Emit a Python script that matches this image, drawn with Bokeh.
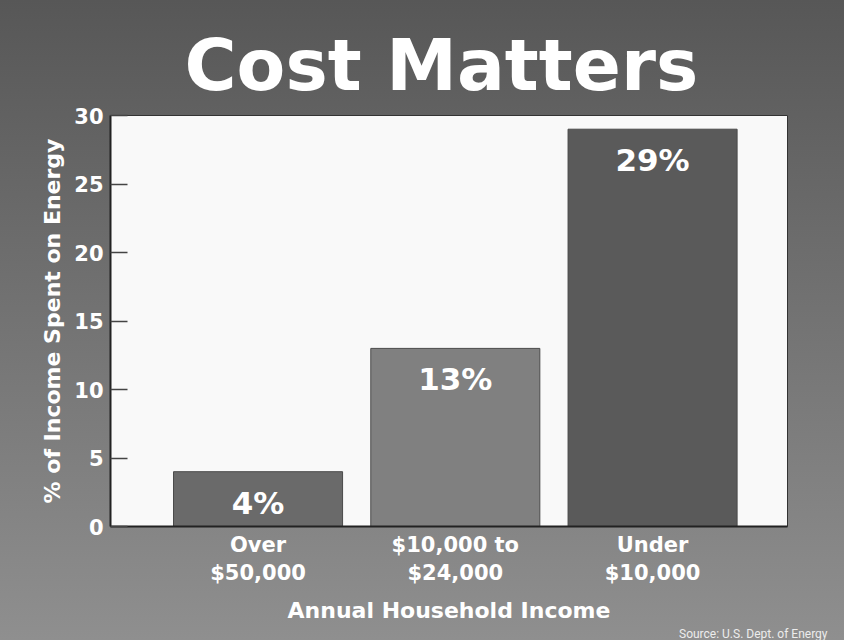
from bokeh.plotting import figure
from bokeh.models import FixedTicker, Range1d, ColumnDataSource, Title
from bokeh.embed import file_html
from bokeh.resources import INLINE
from bokeh.core.properties import value

# ---- data ----
categories = ["Over\n$50,000", "$10,000 to\n$24,000", "Under\n$10,000"]
shares = [4, 13, 29]
y_ticks = [0, 5, 10, 15, 20, 25, 30]
title_text = "Cost Matters"
x_label = "Annual Household Income"
y_label = "% of Income Spent on Energy"
source_text = "Source: U.S. Dept. of Energy"

bar_colors = ["#6a6a6a", "#808080", "#5a5a5a"]

positions = list(range(len(categories)))
src = ColumnDataSource(dict(
    x=positions,
    top=shares,
    color=bar_colors,
    label=[f"{v}%" for v in shares],
))

FONT = "DejaVu Sans"

p = figure(width=844, height=640, output_backend="svg", toolbar_location=None,
           x_range=Range1d(-0.748, 2.684), y_range=Range1d(0, 30),
           min_border_left=110, min_border_right=57,
           min_border_top=115, min_border_bottom=114)
try:
    p.title = None
except Exception:
    p.title.text = ""
p.border_fill_color = None
p.background_fill_color = "#f9f9f9"
p.styles = {"background": "linear-gradient(to bottom, #575757 0%, #8f8f8f 100%)"}
p.outline_line_color = "#333333"
p.outline_line_width = 1
p.xgrid.visible = False
p.ygrid.visible = False

main_title = Title(text=title_text, align="left", offset=74, standoff=18,
                   text_font=FONT, text_font_style="bold", text_font_size="71px",
                   text_color="white")
p.add_layout(main_title, "above")

p.vbar(x="x", top="top", width=0.857, fill_color="color", line_color="#4a4a4a",
       line_width=1, source=src)
p.text(x="x", y="top", text="label", source=src, y_offset=31,
       text_align="center", text_baseline="middle",
       text_font=value(FONT), text_font_style="bold", text_font_size="31px",
       text_color="white")

# y axis
ya = p.yaxis[0]
ya.ticker = FixedTicker(ticks=y_ticks)
ya.major_tick_in = 17
ya.major_tick_out = 0
ya.minor_tick_line_color = None
ya.major_tick_line_color = "#444444"
ya.major_tick_line_width = 1.5
ya.axis_line_color = "#222222"
ya.axis_line_width = 2
ya.major_label_text_font = FONT
ya.major_label_text_font_style = "bold"
ya.major_label_text_font_size = "21px"
ya.major_label_text_color = "white"
ya.major_label_standoff = 7
ya.axis_label = y_label
ya.axis_label_text_font = FONT
ya.axis_label_text_font_style = "bold"
ya.axis_label_text_font_size = "22px"
ya.axis_label_text_color = "white"
ya.axis_label_standoff = 6

# x axis
xa = p.xaxis[0]
xa.ticker = FixedTicker(ticks=positions)
xa.major_label_overrides = {i: c for i, c in zip(positions, categories)}
xa.major_tick_line_color = None
xa.minor_tick_line_color = None
xa.axis_line_color = "#222222"
xa.axis_line_width = 2
xa.major_label_text_font = FONT
xa.major_label_text_font_style = "bold"
xa.major_label_text_font_size = "21px"
xa.major_label_text_color = "white"
xa.major_label_standoff = 0
xa.axis_label = x_label
xa.axis_label_text_font = FONT
xa.axis_label_text_font_style = "bold"
xa.axis_label_text_font_size = "22px"
xa.axis_label_text_color = "white"
xa.axis_label_standoff = 10

# source note
p.add_layout(Title(text=source_text, align="right", offset=-40, standoff=-4,
                   text_font="Roboto", text_font_style="normal",
                   text_font_size="12px", text_color="#ececec"), "below")

open("out.html", "w").write(file_html(p, INLINE))
